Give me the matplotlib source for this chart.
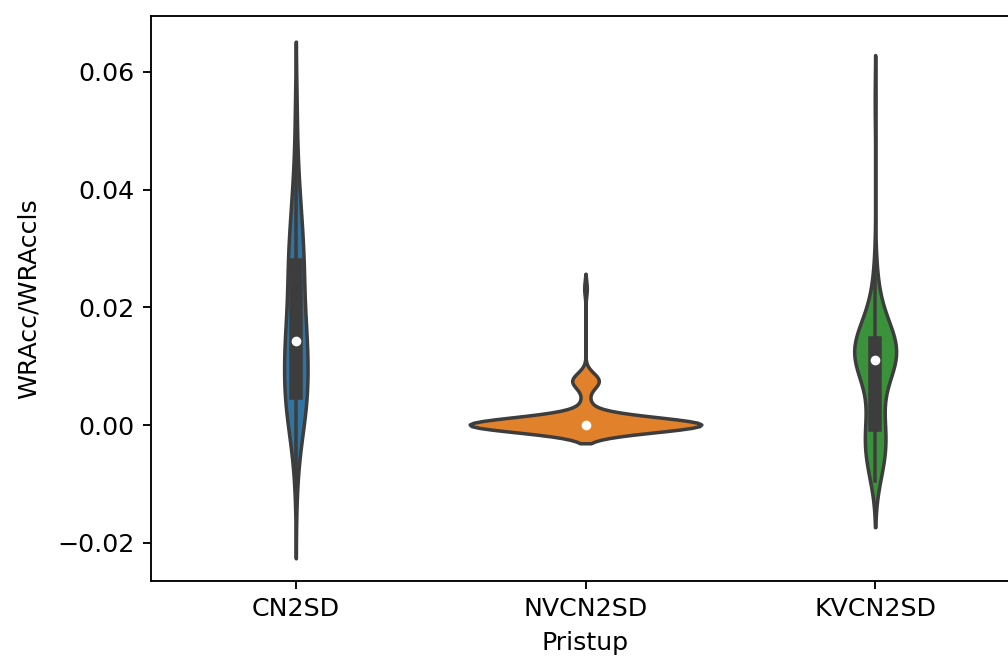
import numpy as np
import pandas as pd
import matplotlib
matplotlib.use("Agg")
import matplotlib.pyplot as plt
import seaborn as sns

pristupi = ["CN2SD", "NVCN2SD", "KVCN2SD"]

# values as (value, how many times it occurs)
cn2sd_vals = [-0.0115, -0.006, -0.003, 0.000, 0.002, 0.004, 0.005,
              0.0055, 0.009, 0.011, 0.013, 0.014,
              0.0145, 0.018, 0.020, 0.022, 0.024, 0.027,
              0.028, 0.031, 0.034, 0.037, 0.041, 0.046, 0.054]
cn2sd_counts = [1, 2, 3, 4, 4, 5, 6,
                5, 5, 5, 5, 5,
                5, 4, 4, 4, 4, 4,
                5, 5, 4, 4, 3, 2, 2]

nvcn2sd_vals = [-0.0006, -0.0003, 0.0, 0.0003, 0.0007, 0.0012, 0.002,
                0.0035, 0.0045, 0.0068, 0.0075, 0.0082, 0.0232]
nvcn2sd_counts = [2, 3, 76, 3, 3, 3, 2,
                  2, 1, 3, 5, 3, 1]

kvcn2sd_vals = [-0.0095, -0.008, -0.006, -0.004, -0.002, -0.0005, 0.0,
                0.002, 0.004, 0.006, 0.008, 0.010, 0.011, 0.012, 0.013,
                0.014, 0.015, 0.016, 0.017, 0.019, 0.021, 0.024, 0.028, 0.055]
kvcn2sd_counts = [2, 3, 5, 6, 5, 4, 2,
                  3, 3, 3, 5, 8, 8, 8, 6,
                  5, 6, 5, 4, 3, 3, 2, 1, 1]

groups = {
    "CN2SD": (cn2sd_vals, cn2sd_counts),
    "NVCN2SD": (nvcn2sd_vals, nvcn2sd_counts),
    "KVCN2SD": (kvcn2sd_vals, kvcn2sd_counts),
}

frames = []
for name in pristupi:
    vals, counts = groups[name]
    frames.append(pd.DataFrame({"Pristup": name,
                                "WRAcc/WRAccls": np.repeat(vals, counts)}))
df = pd.concat(frames, ignore_index=True)

plt.rcParams["font.size"] = 10.8

fig = plt.figure(figsize=(6.0, 660 / 168), dpi=168)
ax = fig.add_axes([151 / 1008, 1 - 581 / 660, 869 / 1008, 565 / 660])

sns.violinplot(data=df, x="Pristup", y="WRAcc/WRAccls", hue="Pristup",
               order=pristupi, hue_order=pristupi,
               palette=["#1f77b4", "#ff7f0e", "#2ca02c"],
               linewidth=1.5, legend=False, ax=ax,
               density_norm="area", common_norm=True,
               inner_kws=dict(box_width=5.8, whis_width=1.5, marker="o",
                              markersize=3))

ax.set_ylim(-0.0265, 0.0695)
ax.set_xlim(-0.5, 2.5)
ax.set_ylabel("WRAcc/WRAccls", labelpad=7)

fig.savefig("out.png", dpi=168)
